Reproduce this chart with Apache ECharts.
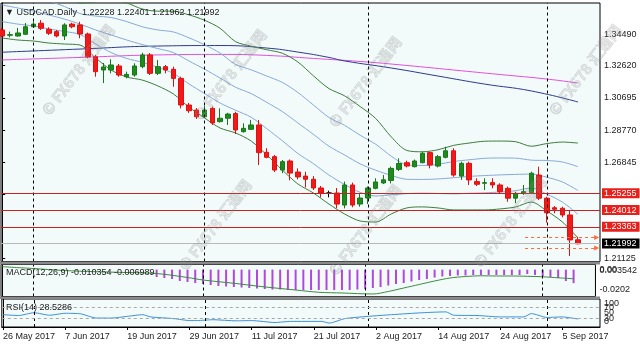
<!DOCTYPE html>
<html><head><meta charset="utf-8">
<script src="https://cdn.jsdelivr.net/npm/echarts@6/dist/echarts.min.js"></script>
<style>html,body{margin:0;padding:0;background:#fff}#c{width:640px;height:351px}</style>
</head><body><div id="c"></div>
<script>
// ---------------- DATA ----------------
const dates = ['26 May 2017','29 May 2017','30 May 2017','31 May 2017','1 Jun 2017','2 Jun 2017','5 Jun 2017','6 Jun 2017','7 Jun 2017','8 Jun 2017',
'9 Jun 2017','12 Jun 2017','13 Jun 2017','14 Jun 2017','15 Jun 2017','16 Jun 2017','19 Jun 2017','20 Jun 2017','21 Jun 2017','22 Jun 2017',
'23 Jun 2017','26 Jun 2017','27 Jun 2017','28 Jun 2017','29 Jun 2017','30 Jun 2017','3 Jul 2017','4 Jul 2017','5 Jul 2017','6 Jul 2017',
'7 Jul 2017','10 Jul 2017','11 Jul 2017','12 Jul 2017','13 Jul 2017','14 Jul 2017','17 Jul 2017','18 Jul 2017','19 Jul 2017','20 Jul 2017',
'21 Jul 2017','24 Jul 2017','25 Jul 2017','26 Jul 2017','27 Jul 2017','28 Jul 2017','31 Jul 2017','1 Aug 2017','2 Aug 2017','3 Aug 2017',
'4 Aug 2017','7 Aug 2017','8 Aug 2017','9 Aug 2017','10 Aug 2017','11 Aug 2017','14 Aug 2017','15 Aug 2017','16 Aug 2017','17 Aug 2017',
'18 Aug 2017','21 Aug 2017','22 Aug 2017','23 Aug 2017','24 Aug 2017','25 Aug 2017','28 Aug 2017','29 Aug 2017','30 Aug 2017','31 Aug 2017',
'1 Sep 2017','4 Sep 2017','5 Sep 2017','6 Sep 2017','7 Sep 2017'];

const opens = [1.3475,1.3443,1.3439,1.3449,1.3494,1.3515,1.3479,1.3465,1.3439,1.3510,
1.3505,1.3451,1.3315,1.3236,1.3236,1.3260,1.3196,1.3206,1.3256,1.3326,
1.3216,1.3256,1.3240,1.3186,1.3027,1.2997,1.2957,1.3007,1.2928,1.2948,
1.2976,1.2868,1.2882,1.2908,1.2745,1.2719,1.2639,1.2693,1.2627,1.2603,
1.2584,1.2532,1.2502,1.2502,1.2430,1.2550,1.2436,1.2472,1.2530,1.2562,
1.2577,1.2643,1.2683,1.2659,1.2683,1.2743,1.2663,1.2715,1.2754,1.2603,
1.2679,1.2570,1.2560,1.2564,1.2550,1.2530,1.2471,1.2500,1.2504,1.2609,
1.2471,1.2414,1.2411,1.2371,1.22228];
const highs = [1.3487,1.3465,1.3487,1.3516,1.3524,1.3534,1.3491,1.3475,1.3515,1.3518,
1.3524,1.3459,1.3326,1.3278,1.3300,1.3272,1.3226,1.3276,1.3339,1.3337,
1.3296,1.3266,1.3256,1.3196,1.3039,1.3009,1.3021,1.3017,1.3007,1.2981,
1.2987,1.2918,1.2938,1.2938,1.2769,1.2729,1.2699,1.2702,1.2649,1.2629,
1.2603,1.2544,1.2516,1.2532,1.2570,1.2564,1.2500,1.2541,1.2590,1.2609,
1.2660,1.2709,1.2695,1.2702,1.2749,1.2749,1.2729,1.2778,1.2769,1.2689,
1.2689,1.2590,1.2590,1.2590,1.2560,1.2540,1.2510,1.2550,1.2629,1.2659,
1.2480,1.2424,1.2420,1.2401,1.22401];
const lows = [1.3433,1.3431,1.3435,1.3445,1.3487,1.3475,1.3445,1.3431,1.3415,1.3485,
1.3425,1.3306,1.3196,1.3158,1.3216,1.3196,1.3186,1.3196,1.3246,1.3206,
1.3206,1.3216,1.3136,1.3007,1.2980,1.2944,1.2950,1.2908,1.2922,1.2908,
1.2854,1.2862,1.2878,1.2669,1.2709,1.2627,1.2620,1.2578,1.2584,1.2535,
1.2520,1.2476,1.2476,1.2411,1.2410,1.2417,1.2420,1.2436,1.2524,1.2556,
1.2559,1.2633,1.2655,1.2655,1.2679,1.2649,1.2655,1.2709,1.2599,1.2580,
1.2550,1.2544,1.2520,1.2530,1.2502,1.2450,1.2441,1.2490,1.2500,1.2460,
1.2325,1.2381,1.2357,1.2126,1.21962];
const closes = [1.3439,1.3447,1.3457,1.3494,1.3510,1.3485,1.3455,1.3439,1.3505,1.3494,
1.3451,1.3315,1.3226,1.3254,1.3266,1.3206,1.3210,1.3260,1.3326,1.3216,
1.3256,1.3236,1.3186,1.3027,1.2993,1.2957,1.2997,1.2920,1.2948,1.2973,
1.2878,1.2888,1.2908,1.2743,1.2715,1.2639,1.2689,1.2621,1.2598,1.2584,
1.2532,1.2502,1.2502,1.2436,1.2550,1.2430,1.2472,1.2532,1.2568,1.2581,
1.2649,1.2678,1.2663,1.2693,1.2739,1.2669,1.2719,1.2754,1.2609,1.2679,
1.2580,1.2554,1.2564,1.2550,1.2510,1.2471,1.2500,1.2510,1.2620,1.2471,
1.2384,1.2405,1.2371,1.2222,1.21992];

// Bollinger-type bands, read every 2nd bar (0,2,...,74)
const bandBars = [0,2,4,6,8,10,12,14,16,18,20,22,24,26,28,30,32,34,36,38,40,42,44,46,48,50,52,54,56,58,60,62,64,66,68,70,72,74];
const bbUpper = [1.3821,1.3797,1.3767,1.3731,1.3690,1.3636,1.3642,1.3654,1.3636,1.3600,1.3587,1.3587,1.3565,1.3533,1.3485,1.3405,1.3378,1.3357,1.3336,1.3284,1.3201,1.3125,1.3082,1.3018,1.2947,1.2837,1.2756,1.2748,1.2760,1.2786,1.2800,1.2811,1.2812,1.2808,1.2781,1.2797,1.2806,1.2800];
const bbPlus1 = [1.3722,1.3701,1.3678,1.3648,1.3615,1.3573,1.3558,1.3549,1.3525,1.3494,1.3475,1.3463,1.3428,1.3387,1.3337,1.3269,1.3237,1.3200,1.3162,1.3102,1.3027,1.2953,1.2906,1.2847,1.2793,1.2722,1.2670,1.2666,1.2673,1.2690,1.2700,1.2709,1.2711,1.2710,1.2698,1.2696,1.2687,1.2659];
const bbMid = [1.3624,1.3606,1.3588,1.3564,1.3540,1.3510,1.3475,1.3445,1.3415,1.3388,1.3364,1.3340,1.3290,1.3241,1.3188,1.3133,1.3095,1.3043,1.2988,1.2920,1.2852,1.2781,1.2729,1.2676,1.2638,1.2607,1.2584,1.2583,1.2586,1.2593,1.2601,1.2606,1.2610,1.2613,1.2615,1.2596,1.2568,1.2517];
const bbMinus1 = [1.3525,1.3510,1.3499,1.3481,1.3466,1.3448,1.3391,1.3340,1.3305,1.3282,1.3252,1.3216,1.3153,1.3096,1.3039,1.2996,1.2954,1.2886,1.2814,1.2738,1.2677,1.2609,1.2553,1.2506,1.2484,1.2492,1.2498,1.2501,1.2499,1.2497,1.2500,1.2503,1.2508,1.2516,1.2532,1.2495,1.2448,1.2375];
const bbLower = [1.3427,1.3415,1.3409,1.3397,1.3391,1.3385,1.3308,1.3236,1.3194,1.3176,1.3141,1.3093,1.3015,1.2950,1.2890,1.2860,1.2812,1.2729,1.2639,1.2556,1.2502,1.2436,1.2377,1.2335,1.2329,1.2377,1.2413,1.2419,1.2413,1.2401,1.2401,1.2401,1.2407,1.2419,1.2448,1.2395,1.2329,1.2234];

// long moving averages (navy, magenta)
const navyBars = [0,10,20,28,34,38,42,44,50,56,62,68,74];
const navyMA = [1.3342,1.3361,1.3379,1.3382,1.3367,1.3343,1.3311,1.3290,1.3248,1.3200,1.3152,1.3111,1.3045];
const pinkBars = [0,10,20,28,34,40,46,52,58,64,70,74];
const pinkMA = [1.3296,1.3311,1.3326,1.3329,1.3323,1.3305,1.3287,1.3263,1.3236,1.3209,1.3182,1.3158];

// horizontal levels
const redLevels = [1.25255, 1.24012, 1.23363];
const lastPrice = 1.21992;
const arrowLevels = [1.22366, 1.21739];
const arrowFrom = 67.2, arrowTo = 76.4;
const separatorBars = [4, 26, 47, 70];

// MACD(12,26,9)
const macdHist = [0.0001,0.0001,0.0001,0.0001,0.0001,0.0001,0.0001,0.0000,0.0000,0.0000,
0.0000,-0.0001,-0.0001,-0.0002,-0.0002,-0.0002,-0.0003,-0.0003,-0.0003,-0.0004,
-0.00565,-0.00642,-0.00719,-0.00872,-0.00948,-0.01025,-0.01101,-0.01178,-0.01255,-0.01293,
-0.01331,-0.01370,-0.01408,-0.01446,-0.01484,-0.01523,-0.01523,-0.01561,-0.01561,-0.01561,
-0.01561,-0.01561,-0.01561,-0.01561,-0.01561,-0.01561,-0.01523,-0.01484,-0.01408,-0.01331,
-0.01216,-0.01101,-0.01025,-0.00910,-0.00795,-0.00719,-0.00604,-0.00527,-0.00488,-0.00450,
-0.00450,-0.00412,-0.00412,-0.00412,-0.00412,-0.00412,-0.00412,-0.00412,-0.00335,-0.00412,
-0.00488,-0.00565,-0.00642,-0.00872,-0.010354];
const signalBars = [0,4,8,12,16,20,24,26,30,34,38,41,44,48,50,52,54,56,58,60,62,64,66,68,70,72,74];
const macdSignal = [0.00224,0.00086,-0.00067,-0.00159,-0.0022,-0.00297,-0.00603,-0.00795,-0.01047,-0.01324,-0.01561,-0.01736,-0.0179,-0.01867,-0.01675,-0.01408,-0.01139,-0.00871,-0.00641,-0.00527,-0.00473,-0.00488,-0.00488,-0.00511,-0.00549,-0.00626,-0.006989];

// RSI(14)
const rsiBars = [0,2,4,6,8,10,12,14,16,18,19,22,24,25,27,30,32,35,37,41,42,44,47,50,54,57,58,61,64,67,68,70,72,74];
const rsiVals = [44,41,51,42,49,47,32,32,38,44,36,30,23,23,26,22,23,16,20,20,14,30,38,44,51,54,42,41,36,36,48,34,36,28.5286];

// axis tick labels (MT4 stacks several labels on the indicator scales)
const priceTicks = [1.34490,1.32620,1.30695,1.28770,1.26845,1.24920,1.22995,1.21125];
const dateTickBars = [0,8,16,24,32,40,48,56,64,72];
const macdTickValues = [0, -0.01561, -0.00082];
const macdTickLabels = ['0.00', '-0.0202', '0.003542'];
const rsiTickValues = [85, 50, 18, 70, 30];
const rsiTickLabels = ['100', '50', '0', '70', '30'];

const titleText = '\u25BC USDCAD.Daily  1.22228 1.22401 1.21962 1.21992';
const macdText = 'MACD(12,26,9) -0.010354 -0.006989';
const rsiText = 'RSI(14) 28.5286';
const watermark = '\u00A9 FX678 \u6C47\u901A\u7F51';

// ---------------- CHART ----------------
const FONT = '"Liberation Sans", Arial, "DejaVu Sans", sans-serif';
const XMIN = -0.154, XMAX = 76.83;
const pairs = (xs, ys) => xs.map((x, i) => [x, ys[i]]);
const nearestLabel = (vals, labels) => v => {
  let k = 0, d = 1e9; vals.forEach((t, i) => { if (Math.abs(t - v) < d) { d = Math.abs(t - v); k = i; } });
  return labels[k];
};
const chart = echarts.init(document.getElementById('c'));

const gridBase = {left: 1, right: 40, show: true, backgroundColor: '#f3fbfa', borderColor: '#000', borderWidth: 1};
const hiddenX = (gi) => ({type: 'value', gridIndex: gi, min: XMIN, max: XMAX, axisLine: {show: false}, axisTick: {show: false}, axisLabel: {show: false}, splitLine: {show: false}});
const axLabel = (extra) => Object.assign({show: true, margin: 4, fontSize: 9, color: '#222', fontFamily: FONT,
  showMinLabel: true, showMaxLabel: true, hideOverlap: false}, extra);
// indicator scale with a subset of labels (separate axes so overlapping labels are all kept)
const indAxis = (gi, min, max, vals, labels, showLine) => ({
  type: 'value', gridIndex: gi, position: 'right', min, max,
  axisLine: {show: showLine, lineStyle: {color: '#000'}}, axisTick: {show: false},
  axisLabel: axLabel({customValues: vals, formatter: nearestLabel(vals, labels)}),
  splitLine: {show: false}
});

function lineS(name, xs, ys, color, extra) {
  return Object.assign({type: 'line', name, xAxisIndex: 0, yAxisIndex: 0, data: pairs(xs, ys), symbol: 'none',
    lineStyle: {color, width: 1}, silent: true, animation: false, z: 2}, extra || {});
}
const boxLabel = (txt, bg) => ({show: true, position: 'end', distance: 2, formatter: txt, color: '#fff', backgroundColor: bg,
  padding: [1, 3, 0, 2], fontSize: 9, fontFamily: FONT});

const MACD_MIN = -0.020584, MACD_MAX = 0.003925;
const option = {
  animation: false,
  backgroundColor: '#ffffff',
  textStyle: {fontFamily: FONT},
  grid: [
    Object.assign({}, gridBase, {top: 3, height: 258.5}),
    Object.assign({}, gridBase, {top: 264.5, height: 32}),
    Object.assign({}, gridBase, {top: 299, height: 28})
  ],
  xAxis: [hiddenX(0), hiddenX(1), {
    type: 'value', gridIndex: 2, min: XMIN, max: XMAX,
    axisLine: {show: true, lineStyle: {color: '#000'}},
    axisTick: {show: true, length: 3, customValues: dateTickBars, lineStyle: {color: '#000'}},
    axisLabel: axLabel({customValues: dateTickBars, formatter: v => dates[Math.round(v)], align: 'left', margin: 5}),
    splitLine: {show: false}
  }],
  yAxis: [{
    type: 'value', gridIndex: 0, position: 'right', min: 1.20933, max: 1.36358, scale: true,
    axisLine: {show: true, lineStyle: {color: '#000'}},
    axisTick: {show: true, length: 3, customValues: priceTicks, lineStyle: {color: '#000'}},
    axisLabel: axLabel({customValues: priceTicks, formatter: v => v.toFixed(5)}),
    splitLine: {show: false}
  },
    indAxis(1, MACD_MIN, MACD_MAX, macdTickValues.slice(0, 2), macdTickLabels.slice(0, 2), true),
    indAxis(2, 0, 100, rsiTickValues.slice(0, 3), rsiTickLabels.slice(0, 3), true),
    indAxis(1, MACD_MIN, MACD_MAX, macdTickValues.slice(2), macdTickLabels.slice(2), false),
    indAxis(2, 0, 100, rsiTickValues.slice(3), rsiTickLabels.slice(3), false)
  ],
  graphic: [
    {type: 'rect', shape: {x: 0, y: 261.5, width: 600, height: 3}, style: {fill: '#8a8a8a'}, silent: true, z: 10},
    {type: 'rect', shape: {x: 0, y: 296.5, width: 600, height: 2.5}, style: {fill: '#8a8a8a'}, silent: true, z: 10},
    {type: 'text', x: 5, y: 13, style: {text: titleText, font: '9px ' + FONT, fill: '#222', verticalAlign: 'middle'}, silent: true, z: 20},
    {type: 'text', x: 6, y: 273, style: {text: macdText, font: '9px ' + FONT, fill: '#222', verticalAlign: 'middle'}, silent: true, z: 20},
    {type: 'text', x: 6, y: 308, style: {text: rsiText, font: '9px ' + FONT, fill: '#222', verticalAlign: 'middle'}, silent: true, z: 20},
    ...[[78, 70], [230, 75], [365, 82], [585, 70], [215, 225], [365, 230], [510, 222]].map(p => ({
      type: 'text', x: p[0], y: p[1], rotation: 0.92,
      style: {text: watermark, font: 'bold 15px "Noto Sans CJK SC", ' + FONT, fill: 'rgba(150,150,150,0.18)', stroke: 'rgba(140,140,140,0.3)', lineWidth: 0.6,
        align: 'center', verticalAlign: 'middle'}, silent: true, z: 15}))
  ],
  series: [
    lineS('ma-slow', pinkBars, pinkMA, '#e050e0', {smooth: true}),
    lineS('ma-navy', navyBars, navyMA, '#2b3a8e', {smooth: true}),
    lineS('bb-up', bandBars, bbUpper, '#3e7b3e', {smooth: 0.3}),
    lineS('bb-p1', bandBars, bbPlus1, '#86a9d9', {smooth: 0.3}),
    lineS('bb-mid', bandBars, bbMid, '#86a9d9', {smooth: 0.3}),
    lineS('bb-m1', bandBars, bbMinus1, '#86a9d9', {smooth: 0.3}),
    lineS('bb-low', bandBars, bbLower, '#3e7b3e', {smooth: 0.3,
      markLine: {silent: true, animation: false, symbol: ['none', 'triangle'], symbolSize: [5, 5],
        lineStyle: {color: '#ff6a3a', type: [3, 3], width: 1},
        label: {show: false},
        data: arrowLevels.map(v => [{coord: [arrowFrom, v]}, {coord: [arrowTo, v]}])}}),
    {
      type: 'candlestick', name: 'USDCAD', xAxisIndex: 0, yAxisIndex: 0, barWidth: 5, animation: false, silent: true, z: 3,
      data: opens.map((o, i) => [i, o, closes[i], lows[i], highs[i]]),
      encode: {x: 0, y: [1, 2, 3, 4]},
      itemStyle: {color: '#1d8c1d', color0: '#f01a1a', borderColor: '#187818', borderColor0: '#e01010', borderColorDoji: '#000', borderWidth: 1},
      markLine: {silent: true, animation: false, symbol: 'none', z: 4,
        data: [
          ...separatorBars.map(b => ({xAxis: b, lineStyle: {color: '#000', type: [3, 3], width: 1}, label: {show: false}})),
          ...redLevels.map(v => ({yAxis: v, lineStyle: {color: '#c42222', type: 'solid', width: 1}, label: boxLabel(v.toFixed(5), '#e8201c')})),
          {yAxis: lastPrice, lineStyle: {color: '#b8b8b8', type: 'solid', width: 1}, label: boxLabel(lastPrice.toFixed(5), '#000')}
        ]}
    },
    {
      type: 'bar', name: 'MACD', xAxisIndex: 1, yAxisIndex: 1, barWidth: 2, silent: true, animation: false,
      data: macdHist.map((v, i) => [i, v]), itemStyle: {color: '#b048dc'},
      markLine: {silent: true, animation: false, symbol: 'none', label: {show: false},
        data: separatorBars.map(b => ({xAxis: b, lineStyle: {color: '#000', type: [3, 3], width: 1}}))}
    },
    {type: 'line', name: 'Signal', xAxisIndex: 1, yAxisIndex: 1, data: pairs(signalBars, macdSignal), symbol: 'none', smooth: 0.3,
      lineStyle: {color: '#3f8a3f', width: 1}, silent: true, animation: false},
    {type: 'line', name: 'RSI', xAxisIndex: 2, yAxisIndex: 2, data: pairs(rsiBars, rsiVals), symbol: 'none', smooth: 0.2,
      lineStyle: {color: '#3a90d8', width: 1}, silent: true, animation: false,
      markLine: {silent: true, animation: false, symbol: 'none', label: {show: false},
        data: [
          ...separatorBars.map(b => ({xAxis: b, lineStyle: {color: '#000', type: [3, 3], width: 1}})),
          {yAxis: 70, lineStyle: {color: '#a8a8a8', type: [3, 3], width: 1}},
          {yAxis: 30, lineStyle: {color: '#a8a8a8', type: [3, 3], width: 1}}
        ]}}
  ]
};
chart.setOption(option);
</script>
</body></html>
